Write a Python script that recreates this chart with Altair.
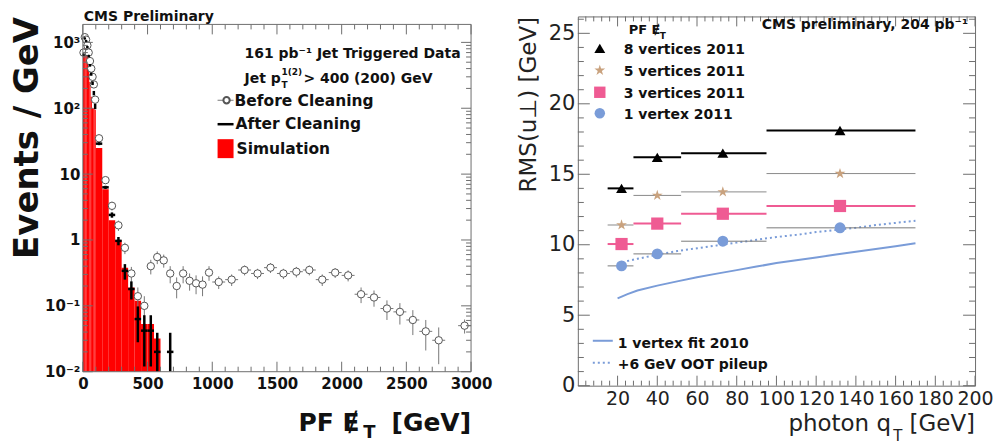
import altair as alt
import pandas as pd

# ---------------- left panel: PF MET spectrum (Events / GeV) ----------------
sim_lo = [0, 10, 20, 30, 40, 50, 60, 70, 80, 90, 100, 150, 200, 250, 300, 350, 400, 450, 500, 550]
sim_hi = [10, 20, 30, 40, 50, 60, 70, 80, 90, 100, 150, 200, 250, 300, 350, 400, 450, 500, 550, 600]
sim_val = [750, 1200, 1050, 700, 420, 250, 150, 100, 100, 95, 25, 5.9, 2.0, 1.0, 0.38, 0.19, 0.12, 0.053, 0.053, 0.032]

bef_lo = [0, 10, 20, 30, 40, 50, 60, 70, 80, 90,
          100, 150, 200, 250, 300, 350, 400, 450,
          500, 550, 600, 650, 700, 750, 800, 850, 900, 950,
          1000, 1100, 1200, 1300, 1400, 1500, 1600, 1700, 1800, 1900, 2000, 2100, 2200, 2300, 2400, 2500, 2600, 2700,
          2900]
bef_hi = [10, 20, 30, 40, 50, 60, 70, 80, 90, 100,
          150, 200, 250, 300, 350, 400, 450, 500,
          550, 600, 650, 700, 750, 800, 850, 900, 950, 1000,
          1100, 1200, 1300, 1400, 1500, 1600, 1700, 1800, 1900, 2000, 2100, 2200, 2300, 2400, 2500, 2600, 2700, 2800,
          3000]
bef_val = [700, 1200, 1100, 900, 700, 520, 400, 300, 230, 135,
           35, 8.1, 3.3, 1.67, 0.76, 0.31, 0.14, 0.10,
           0.40, 0.55, 0.49, 0.31, 0.20, 0.31, 0.24, 0.22, 0.21, 0.32,
           0.23, 0.25, 0.35, 0.31, 0.38, 0.31, 0.33, 0.35, 0.25, 0.32, 0.29, 0.15, 0.134, 0.091, 0.081, 0.061, 0.041, 0.030,
           0.050]
bef_err = [20, 30, 30, 25, 22, 18, 16, 14, 12, 9,
           2.5, 0.9, 0.5, 0.3, 0.15, 0.08, 0.05, 0.04,
           0.10, 0.12, 0.11, 0.09, 0.07, 0.09, 0.07, 0.07, 0.07, 0.08,
           0.05, 0.05, 0.06, 0.055, 0.065, 0.055, 0.06, 0.06, 0.05, 0.055, 0.055, 0.04, 0.037, 0.03, 0.029, 0.025, 0.02, 0.017,
           0.012]

aft_lo = [0, 10, 20, 30, 40, 50, 60, 70, 80, 90, 100, 150, 200, 250, 300, 350, 400, 450, 500, 550, 650]
aft_hi = [10, 20, 30, 40, 50, 60, 70, 80, 90, 100, 150, 200, 250, 300, 350, 400, 450, 500, 550, 600, 700]
aft_val = [650, 1150, 1050, 850, 620, 450, 330, 240, 170, 107, 29, 6.3, 2.4, 0.97, 0.34, 0.18, 0.063, 0.042, 0.042, 0.020, 0.020]
aft_err = [25, 35, 35, 30, 25, 20, 18, 15, 13, 10, 1.5, 0.35, 0.22, 0.14, 0.09, 0.055, 0.035, 0.03, 0.03, 0.019, 0.019]

met_major = [0, 500, 1000, 1500, 2000, 2500, 3000]
ev_major = [0.01, 0.1, 1, 10, 100, 1000]

# ---------------- right panel: RMS(u_perp) vs photon qT ----------------
qt_lo = [15, 28, 52, 95]
qt_hi = [28, 52, 95, 170]
qt_c = [22, 40, 73, 132]
rms_8vtx = [14.0, 16.2, 16.5, 18.1]
rms_5vtx = [11.4, 13.5, 13.75, 15.05]
rms_3vtx = [10.05, 11.5, 12.2, 12.75]
rms_1vtx = [8.5, 9.35, 10.25, 11.2]

fit_qt = [20, 25, 30, 40, 50, 60, 70, 80, 90, 100, 110, 120, 130, 140, 150, 160, 170]
fit_2010 = [6.2, 6.5, 6.75, 7.1, 7.4, 7.7, 7.95, 8.2, 8.45, 8.7, 8.9, 9.1, 9.3, 9.5, 9.7, 9.9, 10.1]
fit_oot = [8.65, 8.85, 9.0, 9.3, 9.55, 9.75, 9.95, 10.15, 10.35, 10.55, 10.7, 10.9, 11.05, 11.2, 11.4, 11.55, 11.7]

qt_major = [20, 40, 60, 80, 100, 120, 140, 160, 180, 200]
rms_major = [0, 5, 10, 15, 20, 25]

# ---------------- styling ----------------
FONT = "DejaVu Sans"
FRAME = "#6e6e6e"
PINK = "#ef5b93"
TAN = "#c9a27e"
BLUE = "#7a9cd8"
STAR = ("M0,-1L0.2245,-0.309L0.951,-0.309L0.363,0.118L0.588,0.809L0,0.382"
        "L-0.588,0.809L-0.363,0.118L-0.951,-0.309L-0.2245,-0.309Z")

LW, LH, LTOP = 389, 356, 8      # left plot: frame drawn from LTOP down to LH
RW, RH = 398, 370

xs_l = alt.Scale(domain=[0, 3000], nice=False, zero=False)
ys_l = alt.Scale(type="log", domain=[0.01, 2478], nice=False)
xs_r = alt.Scale(domain=[0, 200], nice=False, zero=False)
ys_r = alt.Scale(domain=[0, 26.2], nice=False, zero=False)

lab_expr = ("datum.value < 0.05 ? '10⁻²' : datum.value < 0.5 ? '10⁻¹' : datum.value < 5 ? '1' : "
            "datum.value < 50 ? '10' : datum.value < 500 ? '10²' : '10³'")
AX_LX = alt.Axis(values=met_major, format="d", title=None, ticks=False, domain=False, grid=False,
                 labelFont=FONT, labelFontWeight="bold", labelFontSize=15, labelColor="#111",
                 labelPadding=5, labelFlush=False, labelOverlap=False)
AX_LY = alt.Axis(values=ev_major, labelExpr=lab_expr, ticks=False, domain=False, grid=False,
                 labelFont=FONT, labelFontWeight="bold", labelFontSize=15, labelColor="#111",
                 labelPadding=3, title="Events / GeV", titleFont=FONT, titleFontWeight="bold",
                 titleFontSize=34, titleAnchor="end", titleColor="#111", titlePadding=0,
                 labelFlush=False, labelOverlap=False)
AX_RX = alt.Axis(values=qt_major, title=None, ticks=False, domain=False, grid=False, labelFont=FONT,
                 labelFontWeight="normal", labelFontSize=19, labelColor="#222", labelPadding=4,
                 labelFlush=False, labelOverlap=False)
AX_RY = alt.Axis(values=rms_major, title="RMS(u⊥) [GeV]", ticks=False, domain=False, grid=False,
                 labelFont=FONT, labelFontWeight="normal", labelFontSize=21, labelColor="#222",
                 labelPadding=3, titleFont=FONT, titleFontWeight="normal", titleFontSize=23,
                 titleAnchor="end", titleColor="#222", titlePadding=8, labelFlush=False,
                 labelOverlap=False)


def one():
    return pd.DataFrame({"a": [0]})


def tick_layers(xmaj, xmin, ymaj, ymin, xs, ys, axx, axy, W, H, top=0, lx=(10, 5), ly=(10, 5)):
    out = []
    for vals, ln in ((xmaj, lx[0]), (xmin, lx[1])):
        d = pd.DataFrame({"v": vals})
        for y0, y1 in ((H, H - ln), (top, top + ln)):
            out.append(alt.Chart(d).mark_rule(color=FRAME, strokeWidth=1).encode(
                x=alt.X("v:Q", scale=xs, axis=axx), y=alt.value(y0), y2=alt.value(y1)))
    for vals, ln in ((ymaj, ly[0]), (ymin, ly[1])):
        d = pd.DataFrame({"v": vals})
        for x0, x1 in ((0, ln), (W, W - ln)):
            out.append(alt.Chart(d).mark_rule(color=FRAME, strokeWidth=1).encode(
                y=alt.Y("v:Q", scale=ys, axis=axy), x=alt.value(x0), x2=alt.value(x1)))
    return out


def txt(s, x, y, size, weight="bold", align="left", color="#111", baseline="alphabetic"):
    return alt.Chart(pd.DataFrame({"t": [s]})).mark_text(
        align=align, baseline=baseline, fontSize=size, fontWeight=weight, font=FONT, color=color
    ).encode(text="t:N", x=alt.value(x), y=alt.value(y))


def rule_px(x, x2, y, y2=None, color=FRAME, w=1, dash=None):
    kw = dict(color=color, strokeWidth=w)
    if dash:
        kw["strokeDash"] = dash
    enc = dict(x=alt.value(x), x2=alt.value(x2), y=alt.value(y))
    if y2 is not None:
        enc["y2"] = alt.value(y2)
    return alt.Chart(one()).mark_rule(**kw).encode(**enc)


# ---- left panel layers ----
sim = pd.DataFrame({"lo": sim_lo, "hi": sim_hi, "v": sim_val, "base": [0.01] * len(sim_lo)})
bef = pd.DataFrame({"lo": bef_lo, "hi": bef_hi, "v": bef_val, "e": bef_err})
bef["c"] = (bef.lo + bef.hi) / 2
bef["elo"] = (bef.v - bef.e).clip(lower=0.0101)
bef["ehi"] = bef.v + bef.e
aft = pd.DataFrame({"lo": aft_lo, "hi": aft_hi, "v": aft_val, "e": aft_err})
aft["c"] = (aft.lo + aft.hi) / 2
aft["elo"] = (aft.v - aft.e).clip(lower=0.0101)
aft["ehi"] = aft.v + aft.e

hist = alt.Chart(sim).mark_rect(color="#ff0000", clip=True).encode(
    x=alt.X("lo:Q", scale=xs_l, axis=AX_LX), x2="hi:Q",
    y=alt.Y("v:Q", scale=ys_l, axis=AX_LY), y2="base:Q")
bef_h = alt.Chart(bef).mark_rule(color="#777", strokeWidth=1).encode(
    x=alt.X("lo:Q", scale=xs_l, axis=AX_LX), x2="hi:Q", y=alt.Y("v:Q", scale=ys_l, axis=AX_LY))
bef_v = alt.Chart(bef).mark_rule(color="#777", strokeWidth=1).encode(
    x=alt.X("c:Q", scale=xs_l, axis=AX_LX), y=alt.Y("elo:Q", scale=ys_l, axis=AX_LY), y2="ehi:Q")
bef_p = alt.Chart(bef).mark_point(shape="circle", filled=True, fill="white", stroke="#555",
                                  strokeWidth=1, size=55, opacity=1).encode(
    x=alt.X("c:Q", scale=xs_l, axis=AX_LX), y=alt.Y("v:Q", scale=ys_l, axis=AX_LY))
aft_h = alt.Chart(aft).mark_rule(color="#000", strokeWidth=2.5).encode(
    x=alt.X("lo:Q", scale=xs_l, axis=AX_LX), x2="hi:Q", y=alt.Y("v:Q", scale=ys_l, axis=AX_LY))
aft_v = alt.Chart(aft).mark_rule(color="#000", strokeWidth=2.5).encode(
    x=alt.X("c:Q", scale=xs_l, axis=AX_LX), y=alt.Y("elo:Q", scale=ys_l, axis=AX_LY), y2="ehi:Q")

lx_minor = [v for v in range(100, 3000, 100) if v % 500]
ly_minor = [m * 10 ** e for e in range(-2, 4) for m in range(2, 10) if m * 10 ** e < 1862]

left_deco = [
    # frame (top edge sits LTOP px below the panel origin)
    rule_px(0, LW, LTOP), rule_px(0, LW, LH),
    rule_px(0, 0, LTOP, LH), rule_px(LW, LW, LTOP, LH),
    txt("CMS Preliminary", 1, 5, 14),
    txt("161 pb⁻¹ Jet Triggered Data", 162, 42, 14),
    txt("Jet p", 162, 67, 14),
    txt("1(2)", 199, 59, 9),
    txt("T", 199, 72, 9),
    txt("> 400 (200) GeV", 221, 67, 14),
    txt("Before Cleaning", 152, 90, 15.5),
    txt("After Cleaning", 153, 113, 15.5),
    txt("Simulation", 154, 138, 15.5),
    rule_px(135, 151, 84, color="#777"),
    alt.Chart(one()).mark_point(shape="circle", filled=True, fill="white", stroke="#555",
                                size=40, opacity=1).encode(x=alt.value(144), y=alt.value(84)),
    rule_px(135, 151, 108, color="#000", w=2.5),
    alt.Chart(one()).mark_rect(color="#ff0000").encode(
        x=alt.value(135), x2=alt.value(151), y=alt.value(123), y2=alt.value(142)),
    txt("PF Ɇ", 216, 415, 25),
    txt("T", 281, 422, 18),
    txt("[GeV]", 389, 415, 25, align="right"),
]

left = alt.layer(
    hist, bef_h, bef_v, bef_p, aft_h, aft_v,
    *tick_layers(met_major, lx_minor, ev_major, ly_minor, xs_l, ys_l, AX_LX, AX_LY, LW, LH, top=LTOP),
    *left_deco,
).properties(width=LW, height=LH, view=alt.ViewBackground(stroke=None))

# ---- right panel layers ----
rd = pd.DataFrame({"lo": qt_lo, "hi": qt_hi, "c": qt_c, "r8": rms_8vtx, "r5": rms_5vtx,
                   "r3": rms_3vtx, "r1": rms_1vtx})
fits = pd.DataFrame({"q": fit_qt, "f10": fit_2010, "foot": fit_oot})


def hbar(col, color, w):
    return alt.Chart(rd).mark_rule(color=color, strokeWidth=w).encode(
        x=alt.X("lo:Q", scale=xs_r, axis=AX_RX), x2="hi:Q", y=alt.Y(f"{col}:Q", scale=ys_r, axis=AX_RY))


def marker(col, shape, color, size):
    return alt.Chart(rd).mark_point(shape=shape, filled=True, color=color, size=size, opacity=1).encode(
        x=alt.X("c:Q", scale=xs_r, axis=AX_RX), y=alt.Y(f"{col}:Q", scale=ys_r, axis=AX_RY))


fit_line = alt.Chart(fits).mark_line(color=BLUE, strokeWidth=2).encode(
    x=alt.X("q:Q", scale=xs_r, axis=AX_RX), y=alt.Y("f10:Q", scale=ys_r, axis=AX_RY))
oot_line = alt.Chart(fits).mark_line(color=BLUE, strokeWidth=2, strokeDash=[2, 3]).encode(
    x=alt.X("q:Q", scale=xs_r, axis=AX_RX), y=alt.Y("foot:Q", scale=ys_r, axis=AX_RY))

rx_minor = [v for v in range(4, 200, 4) if v % 20]
ry_minor = [v for v in range(1, 27) if v % 5]


def leg_mark(shape, color, size, y):
    return alt.Chart(one()).mark_point(shape=shape, filled=True, color=color, size=size, opacity=1).encode(
        x=alt.value(22), y=alt.value(y))


right_deco = [
    txt("PF Ɇ", 51, 18, 13),
    txt("T", 82, 23, 9),
    leg_mark("triangle-up", "#000", 120, 32),
    txt("8 vertices 2011", 46, 38, 14),
    leg_mark(STAR, TAN, 130, 54),
    txt("5 vertices 2011", 46, 60, 14),
    leg_mark("square", PINK, 130, 76),
    txt("3 vertices 2011", 46, 82, 14),
    leg_mark("circle", BLUE, 110, 97),
    txt("1 vertex 2011", 46, 103, 14),
    txt("CMS preliminary, 204 pb⁻¹", 391, 13, 14, align="right"),
    rule_px(15, 35, 325, color=BLUE, w=2),
    txt("1 vertex fit 2010", 40, 332, 14),
    rule_px(15, 35, 347, color=BLUE, w=2, dash=[2, 3]),
    txt("+6 GeV OOT pileup", 40, 353, 14),
    txt("photon q", 211, 415, 23, weight="normal", color="#222"),
    txt("T", 316, 425, 15, weight="normal", color="#222"),
    txt("[GeV]", 398, 415, 23, weight="normal", color="#222", align="right"),
]

right = alt.layer(
    fit_line, oot_line,
    hbar("r8", "#000", 2), hbar("r5", "#8a8a8a", 1), hbar("r3", PINK, 2), hbar("r1", "#7a7a7a", 1),
    marker("r8", "triangle-up", "#000", 120), marker("r5", STAR, TAN, 130),
    marker("r3", "square", PINK, 150), marker("r1", "circle", BLUE, 120),
    *tick_layers(qt_major, rx_minor, rms_major, ry_minor, xs_r, ys_r, AX_RX, AX_RY, RW, RH,
                 lx=(10, 5), ly=(12, 6)),
    *right_deco,
).properties(width=RW, height=RH, view=alt.ViewBackground(stroke=FRAME, strokeWidth=1))

chart = alt.hconcat(left, right, spacing=24).properties(
    padding={"left": 2, "top": 2, "right": 0, "bottom": 0}
).configure_view(strokeWidth=1).configure(background="white")

chart.save("out.html", embed_options={"renderer": "svg", "actions": False})
